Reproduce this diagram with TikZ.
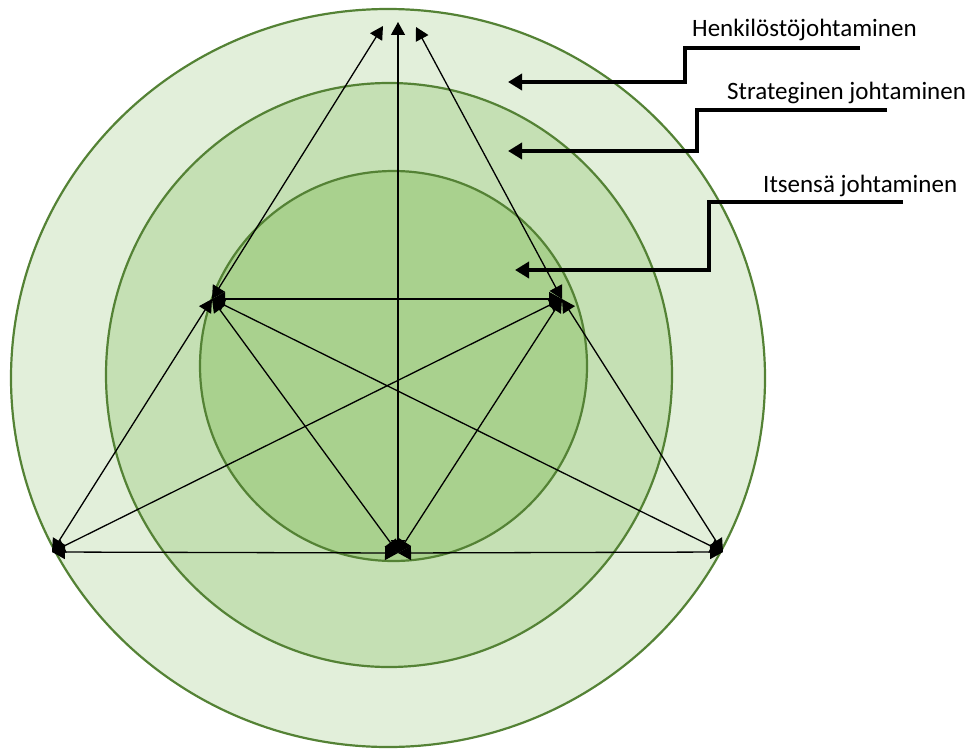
\documentclass[tikz,border=0pt]{standalone}
\usepackage{fontspec}
\setmainfont{Carlito}
\usetikzlibrary{arrows.meta}
\definecolor{ringA}{HTML}{E2EFDA}
\definecolor{ringB}{HTML}{C5E0B4}
\definecolor{ringC}{HTML}{A9D18E}
\definecolor{ringEdge}{HTML}{548235}
\tikzset{
  ring/.style={draw=ringEdge, line width=2.2pt},
  link/.style={black, line width=1.3pt, {Triangle[length=13pt,width=14pt]}-{Triangle[length=13pt,width=14pt]}},
  callout/.style={black, line width=4pt, -{Triangle[length=14pt,width=16pt]}},
  label/.style={anchor=west, inner sep=0pt, font=\fontsize{25}{30}\selectfont}
}
\begin{document}
\begin{tikzpicture}[x=1pt,y=-1pt]
\useasboundingbox (0,0) rectangle (973,749);
% concentric rings
\fill[ringA] (388,378) ellipse [x radius=377, y radius=369];
\draw[ring] (388,378) ellipse [x radius=377, y radius=369];
\fill[ringB] (389,375) ellipse [x radius=283, y radius=292];
\draw[ring] (389,375) ellipse [x radius=283, y radius=292];
\fill[ringC] (393.5,366) ellipse [x radius=193.5, y radius=195];
\draw[ring] (393.5,366) ellipse [x radius=193.5, y radius=195];

% vertices of the network
\coordinate (T)  at (398,22);
\coordinate (TL) at (383,26);
\coordinate (TR) at (416,27);
\coordinate (L)  at (212,299);
\coordinate (R)  at (562,299);
\coordinate (BL) at (52,552);
\coordinate (BC) at (398,553);
\coordinate (BR) at (723,552);

% connections
\draw[link] (L) -- (TL);
\draw[link] (R) -- (TR);
\draw[link] (BC) -- (T);
\draw[link] (L) -- (R);
\draw[link] (L) -- (BL);
\draw[link] (R) -- (BR);
\draw[link] (L) -- (BC);
\draw[link] (R) -- (BC);
\draw[link] (L) -- (BR);
\draw[link] (R) -- (BL);
\draw[link] (BL) -- (BC);
\draw[link] (BC) -- (BR);

% labels with pointers
\node[label] (h) at (692,30) {Henkilöstöjohtaminen};
\coordinate (h1) at (860,48);
\coordinate (h2) at (685,48);
\coordinate (h3) at (685,82);
\coordinate (h4) at (508,82);
\draw[callout] (h1) -- (h2) -- (h3) -- (h4);

\node[label] (s) at (727,93) {Strateginen johtaminen};
\coordinate (s1) at (887,110);
\coordinate (s2) at (697,110);
\coordinate (s3) at (697,151);
\coordinate (s4) at (508,151);
\draw[callout] (s1) -- (s2) -- (s3) -- (s4);

\node[label] (i) at (763,186) {Itsensä johtaminen};
\coordinate (i1) at (903,202);
\coordinate (i2) at (709,202);
\coordinate (i3) at (709,270);
\coordinate (i4) at (515,270);
\draw[callout] (i1) -- (i2) -- (i3) -- (i4);
\end{tikzpicture}
\end{document}
